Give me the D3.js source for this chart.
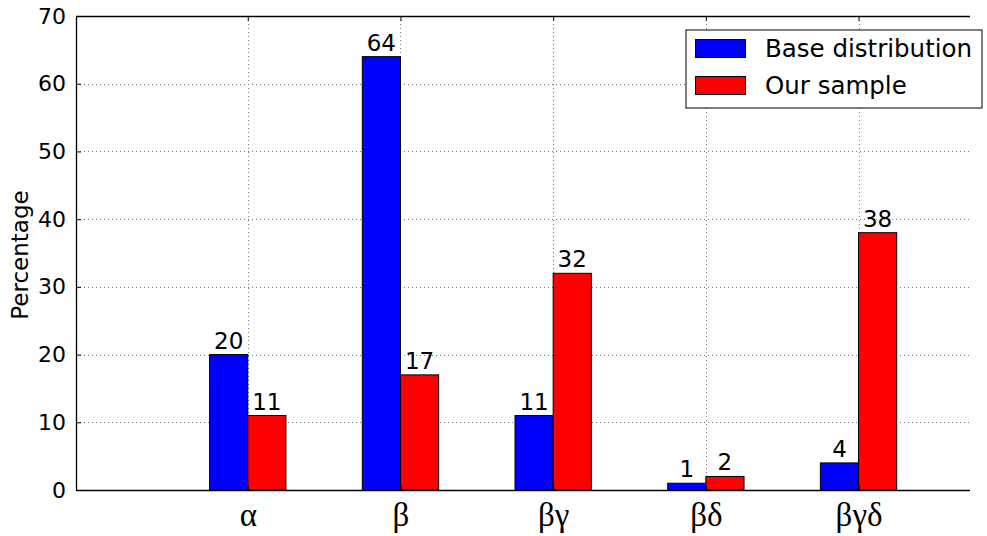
<!DOCTYPE html>
<html>
<head>
<meta charset="utf-8">
<script src="https://cdn.jsdelivr.net/npm/d3@7"></script>
<style>
  html, body { margin: 0; padding: 0; overflow: hidden; background: #fff; width: 987px; height: 536px; }
  svg { display: block; overflow: hidden; font-family: "DejaVu Sans", sans-serif; }
</style>
</head>
<body>
<svg id="chart" width="987" height="536" viewBox="0 0 987 536"></svg>
<script>
(function () {
    'use strict';

    const categories = ["α", "β", "βγ", "βδ", "βγδ"];
    const baseValues = [20, 64, 11, 1, 4];
    const sampleValues = [11, 17, 32, 2, 38];
    const yTicks = [0, 10, 20, 30, 40, 50, 60, 70];
    const seriesNames = ["Base distribution", "Our sample"];
    const seriesColors = ["#0000ff", "#ff0000"];

    const left = 76, top = 16, bottom = 490;
    const barW = 0.25;

    const x = d3.scaleLinear().domain([-0.875, 5.2]).range([left, 1003.6]);
    const y = d3.scaleLinear().domain([0, 70]).range([bottom, top]);
    // the plot runs off the right edge; stop the lines just short of it
    const right = 970;

    const svg = d3.select('#chart');
    const series = [baseValues, sampleValues];

    const grid = svg.append("g")
        .attr("stroke", "#777")
        .attr("stroke-width", 1)
        .attr("stroke-dasharray", "1,3");
    grid.selectAll("line.h")
        .data(yTicks.slice(1, -1))
        .join("line")
        .attr("class", "h")
        .attr("x1", left).attr("x2", right)
        .attr("y1", d => Math.round(y(d)) + 0.5).attr("y2", d => Math.round(y(d)) + 0.5);
    grid.selectAll("line.v")
        .data(categories)
        .join("line")
        .attr("class", "v")
        .attr("x1", (d, i) => Math.round(x(i + barW)) + 0.5)
        .attr("x2", (d, i) => Math.round(x(i + barW)) + 0.5)
        .attr("y1", top).attr("y2", bottom);

    series.forEach((vals, s) => {
        svg.append("g")
            .selectAll("rect")
            .data(vals)
            .join("rect")
            .attr("x", (d, i) => x(i + s * barW))
            .attr("width", x(barW) - x(0))
            .attr("y", d => y(d))
            .attr("height", d => y(0) - y(d))
            .attr("fill", seriesColors[s])
            .attr("stroke", "#000")
            .attr("stroke-width", 1);

        svg.append("g")
            .attr("text-anchor", "middle")
            .attr("font-size", 23)
            .attr("fill", "#000")
            .selectAll("text")
            .data(vals)
            .join("text")
            .attr("x", (d, i) => x(i + s * barW + barW / 2))
            .attr("y", d => y(d) - 6)
            .text(d => d);
    });

    const gy = svg.append("g")
        .attr("transform", `translate(${left},0)`)
        .call(d3.axisLeft(y).tickValues(yTicks).tickSize(-5).tickPadding(10));
    gy.select(".domain").remove();
    gy.selectAll("text").attr("font-size", 22).attr("font-family", "DejaVu Sans").attr("fill", "#000");

    const xt = categories.map((c, i) => i + barW);
    const gx = svg.append("g")
        .attr("transform", `translate(0,${bottom})`)
        .call(d3.axisBottom(x).tickValues(xt).tickSize(-5).tickFormat((d, i) => categories[i]).tickPadding(13));
    gx.select(".domain").remove();
    gx.selectAll("text")
        .attr("font-size", 33)
        .attr("font-family", "Liberation Serif, serif")
        .attr("fill", "#000");

    const gxTop = svg.append("g")
        .attr("transform", `translate(0,${top})`)
        .call(d3.axisTop(x).tickValues(xt).tickSize(-5).tickFormat(""));
    gxTop.select(".domain").remove();

    const spines = svg.append("g")
        .attr("stroke", "#000")
        .attr("stroke-width", 1.3)
        .attr("fill", "none");
    spines.append("line").attr("x1", left + 0.5).attr("x2", left + 0.5).attr("y1", top).attr("y2", bottom + 0.5);
    spines.append("line").attr("x1", left).attr("x2", right).attr("y1", top + 0.5).attr("y2", top + 0.5);
    spines.append("line").attr("x1", left).attr("x2", right).attr("y1", bottom + 0.5).attr("y2", bottom + 0.5);

    svg.append("text")
        .attr("transform", `translate(28,${(top + bottom) / 2 + 2}) rotate(-90)`)
        .attr("text-anchor", "middle")
        .attr("font-size", 23)
        .text("Percentage");

    const lg = svg.append("g").attr("transform", "translate(686,30)");
    lg.append("rect")
        .attr("width", 296).attr("height", 78)
        .attr("fill", "#fff")
        .attr("stroke", "#000")
        .attr("stroke-width", 1);
    seriesNames.forEach((name, s) => {
        lg.append("rect")
            .attr("x", 9.5).attr("y", 9.5 + s * 37)
            .attr("width", 50).attr("height", 18)
            .attr("fill", seriesColors[s])
            .attr("stroke", "#000");
        lg.append("text")
            .attr("x", 79).attr("y", 27 + s * 37)
            .attr("font-size", 24.5)
            .text(name);
    });
}());
</script>
</body>
</html>
